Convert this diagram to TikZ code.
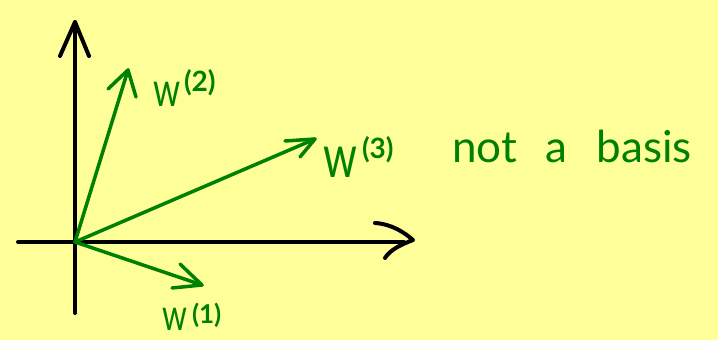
\documentclass[tikz,border=0pt]{standalone}
\usepackage{fontspec}
\setmainfont{Lato}
\usetikzlibrary{calc}
\definecolor{bgyellow}{RGB}{255,255,153}
\definecolor{pengreen}{RGB}{0,128,0}
\tikzset{
  axisline/.style={line width=4pt, black, line cap=round, line join=round},
  vecline/.style={line width=3.5pt, pengreen, line cap=round, line join=round},
  lbl/.style={inner sep=0pt, outer sep=0pt, text=pengreen, anchor=base west},
}
\newcommand{\wlet}[1]{\fontsize{#1}{#1}\selectfont\scalebox{0.72}[1]{w}}
\newcommand{\suplbl}[2]{\fontsize{#1}{#1}\selectfont\bfseries #2}
\begin{document}
\begin{tikzpicture}[x=1pt,y=-1pt]
  \fill[bgyellow] (0,0) rectangle (718,340);
  \useasboundingbox (0,0) rectangle (718,340);
  % axes
  \coordinate (O) at (75,242);
  \coordinate (ytop) at (75,22);
  \coordinate (ybot) at (75,313);
  \coordinate (xleft) at (18,242);
  \coordinate (xright) at (404,242);
  \coordinate (xtip) at (413,240);
  \draw[axisline] (ybot) -- (ytop);
  \draw[axisline] (60,56) -- (ytop) -- (89,56);
  \draw[axisline] (xleft) -- (xright);
  \draw[axisline] (375,223) .. controls (392,224) and (405,233) .. (xtip)
                  .. controls (400,245) and (390,250) .. (385,258);
  % vectors
  \coordinate (t1) at (202,285);
  \coordinate (t2) at (128,70);
  \coordinate (t3) at (315,139);
  \draw[vecline] (O) -- (t1);
  \draw[vecline] (180,264) -- (t1) -- (172,288);
  \draw[vecline] (O) -- (t2);
  \draw[vecline] (108,89) -- (t2) -- (136,97);
  \draw[vecline] (O) -- (t3);
  \draw[vecline] (285,141) -- (t3) -- (300,157);
  % labels
  \node[lbl] (w2) at (153,106) {\wlet{48}};
  \node[lbl] (s2) at (184,91) {\suplbl{28}{(2)}};
  \node[lbl] (w3) at (323,177) {\wlet{60}};
  \node[lbl] (s3) at (362,158) {\suplbl{28}{(3)}};
  \node[lbl] (w1) at (162,330) {\wlet{44}};
  \node[lbl] (s1) at (192,323) {\suplbl{26}{(1)}};
  \node[lbl] (txt) at (452,162) {\fontsize{44}{44}\selectfont not\hspace{29pt}a\hspace{29pt}basis};
\end{tikzpicture}
\end{document}
